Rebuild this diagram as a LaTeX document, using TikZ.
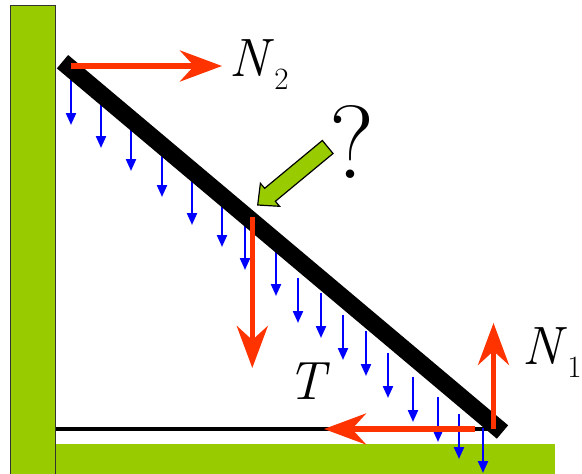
\documentclass[tikz,border=0pt]{standalone}
\usepackage{fontspec}
\usetikzlibrary{arrows.meta}
\definecolor{grassgreen}{RGB}{153,204,0}
\definecolor{forcered}{RGB}{255,51,0}
\definecolor{loadblue}{RGB}{0,0,255}
\tikzset{
  wallfill/.style={fill=grassgreen, draw=black!80, line width=1pt},
  floorfill/.style={fill=grassgreen},
  rope/.style={line width=4.5pt, black},
  ladderbar/.style={line width=17.5pt, black, line cap=butt},
  force/.style={forcered, line width=5.5pt, -{Stealth[length=42pt,width=31pt,inset=14pt]}},
  load/.style={loadblue, line width=2.2pt, -{Triangle[length=12pt,width=10pt]}},
  hint/.style={fill=grassgreen, draw=black, line width=1.2pt, line join=miter},
  biglabel/.style={inner sep=0pt, font=\rmfamily\fontsize{54}{54}\selectfont\itshape},
}
\newcommand{\subidx}[1]{\kern6pt\raisebox{-13pt}{\fontsize{31}{31}\selectfont\upshape #1}}
\begin{document}
\begin{tikzpicture}[x=1pt,y=-1pt]
\useasboundingbox (0,0) rectangle (582,474);
% wall and floor
\path[wallfill] (10,5) rectangle (55.5,474.5);
\path[floorfill] (55.5,443.5) rectangle (555,474.5);
% named points
\coordinate (ladtop) at (62.5,61.7);
\coordinate (ladbot) at (502.5,432);
\coordinate (ropeL) at (55.5,429);
\coordinate (ropeR) at (496,429);
% rope
\draw[rope] (ropeL) -- (ropeR);
% distributed load
\foreach \x/\y in {71/80,101/103,131/126,162/152,192/180,222/202,245/225,276/251,298/278,321/293,343/315,366/331,388/353,413/377,438/397,459/414,483/428}
  \draw[load] (\x,\y) -- (\x,\y+45);
% ladder
\draw[ladderbar] (ladtop) -- (ladbot);
% forces
\coordinate (n2s) at (71,66);   \coordinate (n2e) at (222,66);
\coordinate (ws) at (252.3,217); \coordinate (we) at (252.3,368);
\coordinate (n1s) at (493.5,429); \coordinate (n1e) at (493.5,323);
\coordinate (ts) at (475,429);  \coordinate (te) at (324,429);
\draw[force] (n2s) -- (n2e);
\draw[force] (ws) -- (we);
\draw[force] (n1s) -- (n1e);
\draw[force] (ts) -- (te);
% pointer arrow
\draw[hint] (257.7,205) -- (279.6,206.3) -- (275.35,201.3) -- (333.05,153.5)
  -- (322.35,140.5) -- (264.65,188.3) -- (260.4,183.3) -- cycle;
% labels
\node[biglabel, anchor=base west] (lN2) at (229,76) {N\subidx{2}};
\node[biglabel, anchor=base west] (lN1) at (522,364) {N\subidx{1}};
\node[biglabel, anchor=base west] (lT) at (287,399) {T};
\node[inner sep=0pt, anchor=base, font=\rmfamily\fontsize{104}{104}\selectfont] (lq) at (352.5,178) {?};
\end{tikzpicture}
\end{document}
